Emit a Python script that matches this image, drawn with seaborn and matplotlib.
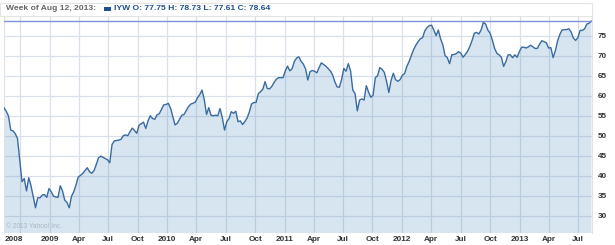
import matplotlib
matplotlib.use("Agg")
import matplotlib.pyplot as plt
import matplotlib.patches as mpatches
import seaborn as sns
import pandas as pd

# ---------------- data ----------------
ticker = "IYW"
week_label = "Week of Aug 12, 2013:"
ohlc_text = "IYW O: 77.75 H: 78.73 L: 77.61 C: 78.64"
last_close = 78.64
start_date = "2008-08-11"

close = [
    57.0, 56.1, 54.9, 51.4, 51.2, 50.5, 49.3, 44.0, 38.5, 39.3,
    36.2, 39.5, 37.5, 34.75, 32.0, 34.5, 34.5, 35.2, 35.3, 34.6,
    36.8, 36.0, 34.9, 34.7, 34.6, 37.5, 36.2, 33.9, 33.3, 32.0,
    34.9, 36.0, 37.7, 39.7, 40.1, 40.6, 41.3, 42.0, 41.0, 40.6,
    41.3, 42.8, 44.5, 44.9, 44.6, 44.3, 44.0, 43.25, 47.8, 48.7,
    48.8, 48.9, 49.1, 50.0, 50.2, 50.0, 51.0, 51.9, 51.3, 50.6,
    52.6, 53.0, 53.4, 51.8, 53.7, 55.0, 54.3, 54.1, 55.2, 55.5,
    56.6, 57.7, 57.8, 58.1, 56.9, 54.75, 52.7, 53.1, 54.1, 55.1,
    55.3, 56.3, 57.3, 57.9, 58.1, 58.4, 59.5, 60.3, 61.4, 59.0,
    55.3, 57.0, 55.1, 55.0, 55.1, 55.0, 56.8, 54.5, 51.4, 53.5,
    54.3, 56.0, 55.6, 56.1, 53.5, 53.7, 52.8, 53.5, 54.4, 55.9,
    57.9, 58.3, 58.3, 60.5, 61.0, 61.6, 63.5, 61.8, 61.7, 62.3,
    63.3, 64.1, 64.5, 64.5, 64.5, 66.2, 67.4, 66.2, 66.7, 68.5,
    69.4, 69.7, 68.6, 67.9, 66.7, 63.9, 66.0, 66.3, 66.1, 65.7,
    67.0, 68.2, 67.8, 67.4, 66.8, 66.2, 65.2, 63.5, 62.2, 62.1,
    64.0, 66.8, 66.1, 68.0, 66.2, 61.4, 60.5, 56.2, 58.9, 59.2,
    58.9, 62.5, 60.9, 59.6, 60.1, 64.5, 65.0, 67.0, 66.6, 65.8,
    63.6, 60.8, 63.8, 65.6, 64.0, 63.6, 64.0, 65.1, 65.5, 67.3,
    68.5, 70.0, 71.5, 72.6, 73.5, 74.2, 74.5, 76.2, 77.0, 77.5,
    77.6, 76.4, 75.0, 76.4, 74.2, 72.7, 70.0, 69.5, 68.0, 70.2,
    70.3, 70.5, 71.0, 70.6, 69.6, 70.3, 71.1, 72.3, 73.8, 75.6,
    75.8, 75.4, 76.4, 78.3, 77.9, 76.4, 75.6, 73.9, 71.8, 70.6,
    70.2, 69.6, 67.3, 68.5, 70.2, 70.2, 69.5, 70.2, 69.6, 71.0,
    72.1, 72.1, 71.9, 72.2, 72.6, 72.2, 71.8, 71.8, 72.9, 73.7,
    73.5, 73.2, 71.9, 72.0, 69.5, 71.2, 73.7, 75.3, 76.4, 76.5,
    76.5, 76.7, 75.9, 74.4, 73.8, 74.5, 76.3, 76.3, 76.7, 77.9,
    78.1, 78.64,
]

y_ticks = [30, 35, 40, 45, 50, 55, 60, 65, 70, 75]
x_tick_dates = ["2008-09-11", "2009-01-01", "2009-04-01", "2009-07-01", "2009-10-01",
                "2010-01-01", "2010-04-01", "2010-07-01", "2010-10-01",
                "2011-01-01", "2011-04-01", "2011-07-01", "2011-10-01",
                "2012-01-01", "2012-04-01", "2012-07-01", "2012-10-01",
                "2013-01-01", "2013-04-01", "2013-07-01"]
x_tick_labels = ["2008", "2009", "Apr", "Jul", "Oct",
                 "2010", "Apr", "Jul", "Oct",
                 "2011", "Apr", "Jul", "Oct",
                 "2012", "Apr", "Jul", "Oct",
                 "2013", "Apr", "Jul"]
grid_dates = ["2008-10-01"] + x_tick_dates[1:]

df = pd.DataFrame({
    "date": pd.date_range(start=start_date, periods=len(close), freq="7D"),
    "close": close,
})

# ---------------- figure ----------------
sns.set_theme(style="white")
plt.rcParams["font.family"] = ["Liberation Sans", "DejaVu Sans"]

W, H = 615, 245
fig = plt.figure(figsize=(W / 100, H / 100), dpi=100)
fig.patch.set_facecolor("white")

left_px, right_px, top_px, bottom_px = 4, 592, 16, 233
ax = fig.add_axes([left_px / W, 1 - bottom_px / H,
                   (right_px - left_px) / W, (bottom_px - top_px) / H])
ax.set_facecolor("white")

# gridlines
grid_col = "#d9e0e9"
for yv in y_ticks:
    ax.axhline(yv, color=grid_col, lw=0.9, zorder=1)
for d in grid_dates:
    ax.axvline(pd.Timestamp(d), color=grid_col, lw=0.9, zorder=1)

# area fill + line
ax.fill_between(df["date"], df["close"], 0, color=(0.29, 0.54, 0.75), alpha=0.22,
                lw=0, zorder=2)
sns.lineplot(data=df, x="date", y="close", ax=ax, color="#3a6b9f", lw=1.0,
             zorder=3, legend=False)
ax.axhline(last_close, color="#7f8fd9", lw=1.0, zorder=4)

ax.set_xlim(df["date"].iloc[0], df["date"].iloc[-1] + pd.Timedelta(days=2))
ax.set_ylim(25.7, 79.9)

ax.set_xlabel("")
ax.set_ylabel("")
ax.yaxis.tick_right()
ax.set_yticks(y_ticks)
ax.set_yticklabels([str(v) for v in y_ticks])
ax.set_xticks([pd.Timestamp(d) for d in x_tick_dates])
ax.set_xticklabels(x_tick_labels)
ax.tick_params(axis="both", length=0, labelsize=5.9, labelcolor="#333333")
ax.tick_params(axis="y", pad=4)
ax.tick_params(axis="x", pad=2.5)
for lab in ax.get_xticklabels() + ax.get_yticklabels():
    lab.set_fontweight("bold")

for side, sp in ax.spines.items():
    sp.set_visible(True)
    sp.set_color("#e2e2e2")
    sp.set_linewidth(0.8)
ax.spines["bottom"].set_visible(False)

# copyright
ax.text(0.004, 0.012, "\u00a9 2013 Yahoo! Inc.", transform=ax.transAxes,
        fontsize=4.8, color="#a9b8c6", ha="left", va="bottom", zorder=5)

# header box
hdr = mpatches.Rectangle((0, 1 - top_px / H), right_px / W,
                         (top_px - 3) / H, transform=fig.transFigure,
                         facecolor="white", edgecolor="#e4e4e4", lw=0.8)
fig.patches.append(hdr)
fig.text(6 / W, 1 - 9 / H, week_label, fontsize=6.1, fontweight="bold",
         color="#666666", ha="left", va="center")
marker = mpatches.Rectangle((104 / W, 1 - 11 / H), 7 / W, 3.5 / H,
                            transform=fig.transFigure, facecolor="#1f4f8f",
                            edgecolor="none")
fig.patches.append(marker)
fig.text(114 / W, 1 - 9 / H, ohlc_text, fontsize=6.1, fontweight="bold",
         color="#1f4f8f", ha="left", va="center")

fig.savefig("out.png", dpi=100, facecolor="white")
